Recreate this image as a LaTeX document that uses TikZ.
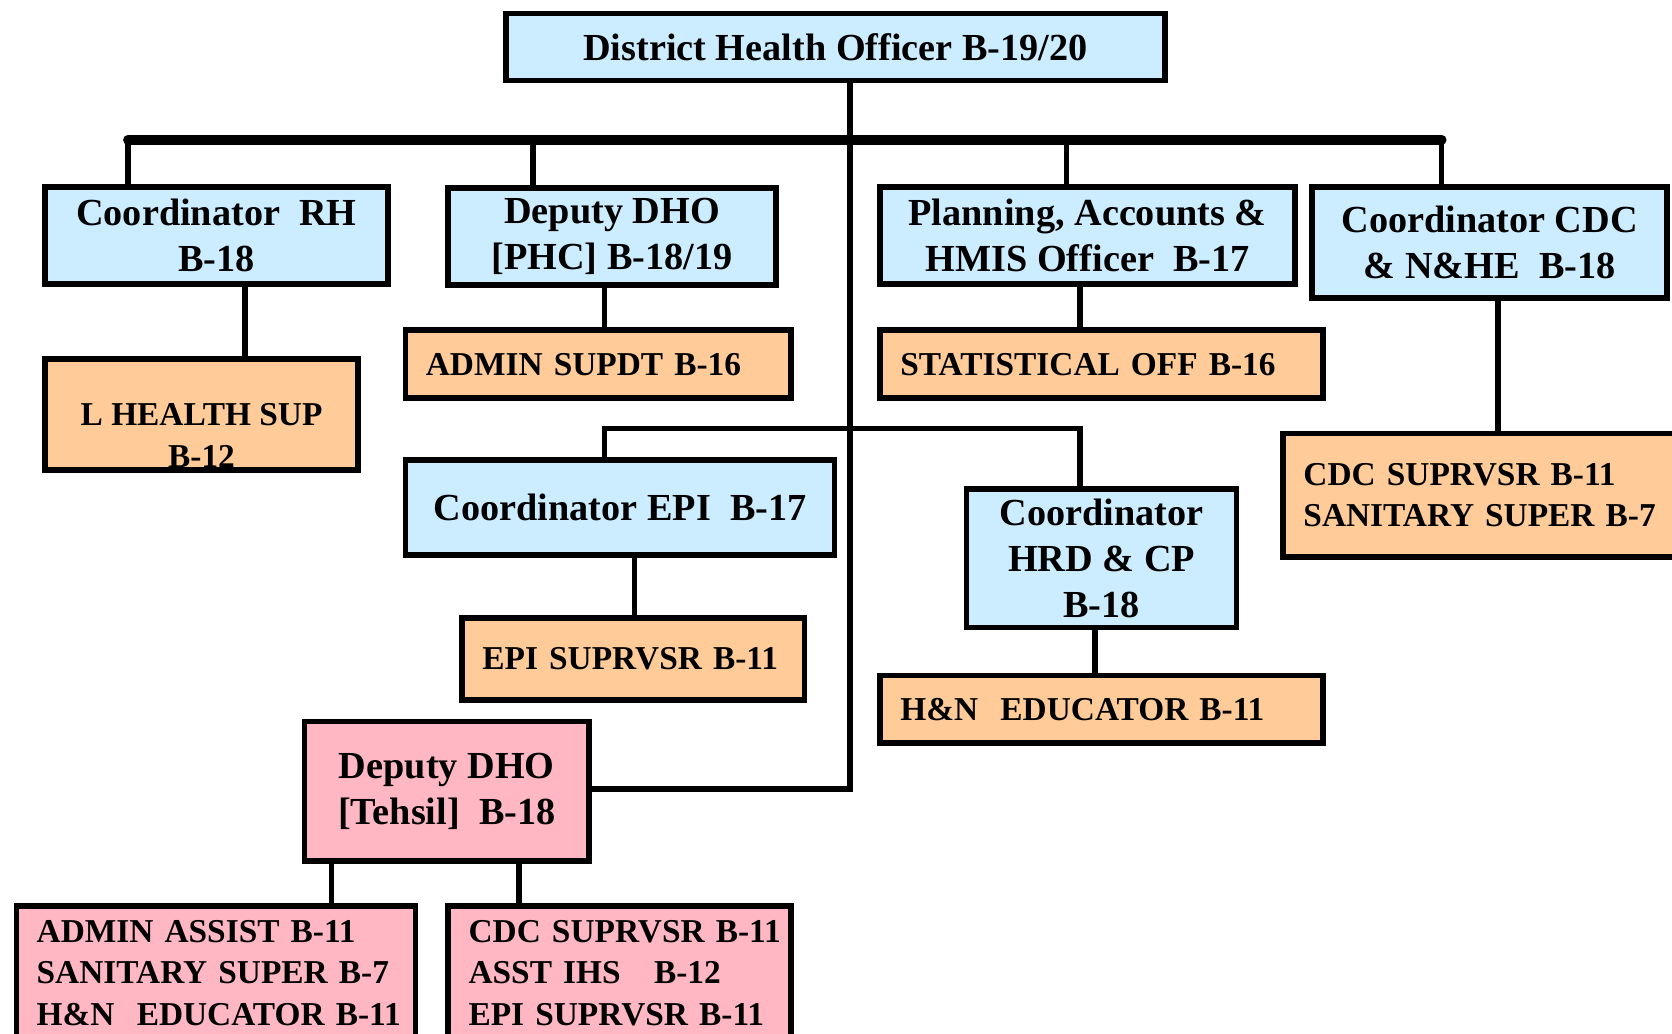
\documentclass[tikz,border=0pt]{standalone}
\usepackage{fontspec}
\setmainfont{Liberation Serif}
\usetikzlibrary{calc}
\definecolor{hblue}{HTML}{CCECFF}
\definecolor{hpeach}{HTML}{FFCC99}
\definecolor{hpink}{HTML}{FFB7C3}
\newcommand\bigtxt{\fontsize{10.2}{12.3}\selectfont\bfseries}
\newcommand\smalltxt{\fontsize{8.9}{11}\selectfont\bfseries}

\begin{document}
\begin{tikzpicture}[x=0.01cm, y=-0.01cm,
    box/.style={draw, line width=1.5pt, inner sep=0pt, align=center, font=\bigtxt},
    blue/.style={box, fill=hblue},
    peach/.style={box, fill=hpeach},
    pink/.style={box, fill=hpink},
    lefttxt/.style={align=left, inner xsep=0.19cm, font=\smalltxt},
    link/.style={line width=1.5pt},
    bus/.style={line width=2.6pt, line cap=round}]
	%%%%% FRAME %%%%%
	\useasboundingbox (0,0) rectangle (1568,969);
	\clip (0,0) rectangle (1568,969);

	%%%%% TOP ROW %%%%%
	\node[blue, minimum width=6.18cm, minimum height=0.63cm] (dho) at (783.5,44) {District Health Officer B-19/20};

	\node[blue, minimum width=3.21cm, minimum height=0.91cm] (rh) at (203,221) {Coordinator~~RH\\B-18};
	\node[blue, minimum width=3.07cm, minimum height=0.91cm] (phc) at (574,222) {Deputy DHO\\{[PHC]} B-18/19};
	\node[blue, minimum width=3.89cm, minimum height=0.91cm] (plan) at (1020,221) {Planning, Accounts \&\\HMIS Officer~~B-17};
	\node[blue, minimum width=3.33cm, minimum height=1.04cm] (cdc) at (1397,227.5) {Coordinator CDC\\\& N\&HE~~B-18};

	%%%%% UNDER THE TOP ROW %%%%%
	\node[peach, minimum width=2.93cm, minimum height=1.04cm] (lhs) at (189,388.5) {};
	\node[font=\smalltxt, align=center, inner sep=0pt] (lhstxt) at ($(lhs)+(0,20)$) {L HEALTH SUP\\B-12};
	\node[peach, lefttxt, text width=3.23cm, minimum height=0.64cm] (adm) at (561,341.5) {ADMIN SUPDT B-16};
	\node[peach, lefttxt, text width=3.77cm, minimum height=0.64cm] (stat) at (1033,341.5) {STATISTICAL OFF B-16};
	\node[peach, lefttxt, text width=4.06cm, minimum height=1.16cm] (cdcsup) at (1425.5,464.5) {CDC SUPRVSR B-11\\SANITARY SUPER B-7};

	%%%%% EPI AND HRD %%%%%
	\node[blue, minimum width=4.02cm, minimum height=0.89cm] (epi) at (581.5,476) {Coordinator EPI~~B-17};
	\node[peach, lefttxt, text width=2.83cm, minimum height=0.77cm] (episup) at (594,618) {EPI SUPRVSR B-11};
	\node[blue, minimum width=2.53cm, minimum height=1.30cm] (hrd) at (1033,523.5) {Coordinator\\HRD \& CP\\B-18};
	\node[peach, lefttxt, text width=3.77cm, minimum height=0.63cm] (hne) at (1033,665) {H\&N~~EDUCATOR B-11};

	%%%%% TEHSIL %%%%%
	\node[pink, minimum width=2.67cm, minimum height=1.31cm] (teh) at (419,742) {Deputy DHO\\{[Tehsil]}~~B-18};
	\node[pink, lefttxt, text width=3.36cm, minimum height=1.26cm] (pinkl) at (202.5,912.5)
		{\mbox{ADMIN ASSIST B-11}\\\mbox{SANITARY SUPER B-7}\\\mbox{H\&N~~EDUCATOR B-11}};
	\node[pink, lefttxt, text width=2.83cm, minimum height=1.26cm] (pinkr) at (581,912.5)
		{\mbox{CDC SUPRVSR B-11}\\\mbox{ASST IHS~~~B-12}\\\mbox{EPI SUPRVSR B-11}};

	%%%%% LINES %%%%%
	\coordinate (busl) at (120,131);
	\coordinate (busr) at (1352,131);
	\coordinate (top) at (797,131);
	\coordinate (mid) at (797,402);
	\coordinate (turn) at (797,740);

	\draw[bus] (busl) -- (busr);
	\foreach \n/\x in {rh/120, phc/500, plan/1000, cdc/1352}{
		\coordinate (\n-up) at (\x,131);
		\draw[link] (\n-up) -- (\n.north -| \n-up);
	}
	\draw[link] (dho.south -| top) -- (turn) -- (teh.east |- turn);
	\draw[link] (epi.north -| 567,0) |- (mid) -| (hrd.north -| 1013,0);

	\foreach \a/\b/\x in {rh/lhs/230, phc/adm/567, plan/stat/1013, cdc/cdcsup/1405,
	                      epi/episup/595, hrd/hne/1027, teh/pinkl/311, teh/pinkr/487}
		\draw[link] (\a.south -| \x,0) -- (\b.north -| \x,0);
\end{tikzpicture}
\end{document}
